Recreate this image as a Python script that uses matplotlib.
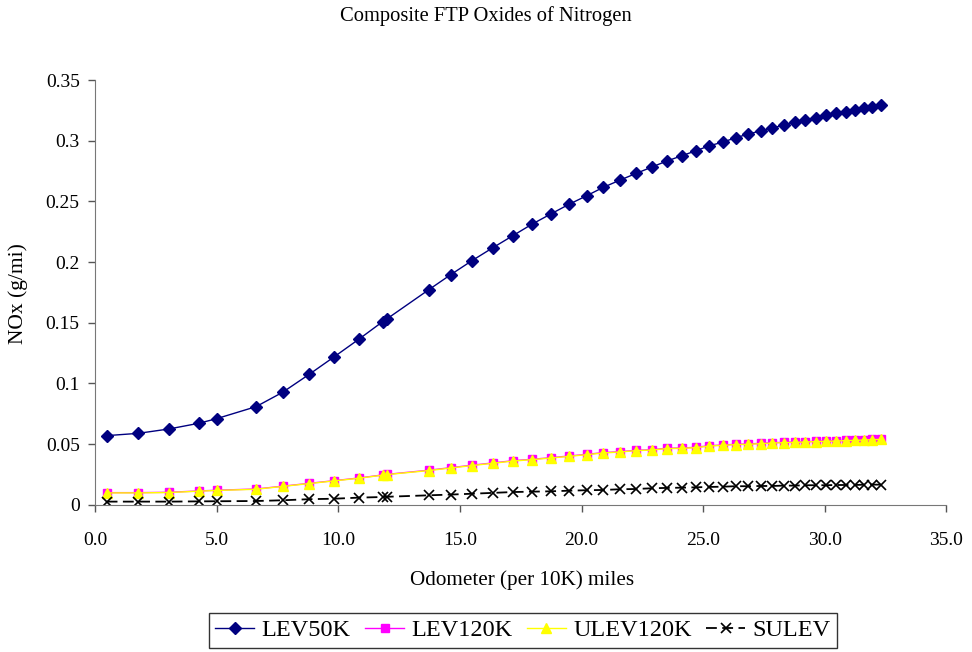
import matplotlib
matplotlib.use('Agg')
from matplotlib import pyplot as plt
from matplotlib.ticker import FuncFormatter, MultipleLocator

odometer = [0.48, 1.78, 3.04, 4.27, 5.0, 6.62, 7.71, 8.81, 9.84, 10.86,
            11.82, 12.01, 13.72, 14.62, 15.49, 16.35, 17.17, 17.95, 18.73, 19.48,
            20.21, 20.89, 21.58, 22.24, 22.88, 23.50, 24.11, 24.70, 25.25, 25.80,
            26.33, 26.84, 27.36, 27.84, 28.31, 28.76, 29.19, 29.63, 30.04, 30.45,
            30.86, 31.25, 31.62, 31.96, 32.31]

lev50k = [0.0569, 0.0588, 0.0624, 0.0671, 0.0709, 0.0808, 0.0926, 0.1075, 0.1220, 0.1366,
          0.1508, 0.1533, 0.1772, 0.1896, 0.2011, 0.2118, 0.2217, 0.2311, 0.2396, 0.2476,
          0.2547, 0.2616, 0.2676, 0.2731, 0.2783, 0.2833, 0.2876, 0.2918, 0.2959, 0.2989,
          0.3025, 0.3055, 0.3082, 0.3104, 0.3132, 0.3152, 0.3171, 0.3190, 0.3209, 0.3226,
          0.3239, 0.3253, 0.3267, 0.3278, 0.3292]

lev120k = [0.0099, 0.0099, 0.0102, 0.0113, 0.0119, 0.0129, 0.0152, 0.0176, 0.0198, 0.0220,
           0.0245, 0.0250, 0.0284, 0.0305, 0.0325, 0.0344, 0.0362, 0.0374, 0.0387, 0.0401,
           0.0415, 0.0429, 0.0437, 0.0448, 0.0453, 0.0465, 0.0467, 0.0473, 0.0486, 0.0492,
           0.0498, 0.0500, 0.0506, 0.0511, 0.0514, 0.0517, 0.0519, 0.0523, 0.0525, 0.0527,
           0.0531, 0.0533, 0.0536, 0.0539, 0.0541]

ulev120k = [0.0097, 0.0097, 0.0100, 0.0111, 0.0117, 0.0127, 0.0150, 0.0174, 0.0196, 0.0218,
            0.0243, 0.0248, 0.0281, 0.0302, 0.0322, 0.0341, 0.0359, 0.0371, 0.0384, 0.0398,
            0.0412, 0.0426, 0.0434, 0.0445, 0.0450, 0.0462, 0.0464, 0.0470, 0.0483, 0.0489,
            0.0495, 0.0497, 0.0503, 0.0508, 0.0511, 0.0514, 0.0516, 0.0520, 0.0522, 0.0524,
            0.0528, 0.0530, 0.0533, 0.0536, 0.0538]

sulev = [0.0025, 0.0025, 0.0025, 0.0027, 0.0028, 0.0030, 0.0036, 0.0045, 0.0049, 0.0058,
         0.0063, 0.0065, 0.0077, 0.0083, 0.0090, 0.0097, 0.0104, 0.0107, 0.0110, 0.0115,
         0.0119, 0.0121, 0.0127, 0.0129, 0.0135, 0.0138, 0.0140, 0.0143, 0.0146, 0.0148,
         0.0152, 0.0152, 0.0154, 0.0154, 0.0157, 0.0157, 0.0160, 0.0160, 0.0160, 0.0162,
         0.0162, 0.0162, 0.0165, 0.0165, 0.0165]

plt.rcParams['font.family'] = 'Liberation Serif'

fig = plt.figure(figsize=(9.72, 6.52), dpi=100)
ax = fig.add_axes([0.0977, 0.226, 0.876, 0.651])

ax.plot(odometer, lev50k, color='#000080', marker='D', markersize=6, linewidth=1.0, label='LEV50K')
ax.plot(odometer, lev120k, color='#ff00ff', marker='s', markersize=6, linewidth=1.0, label='LEV120K')
ax.plot(odometer, ulev120k, color='#ffff00', marker='^', markersize=7, linewidth=1.0, label='ULEV120K')
ax.plot(odometer, sulev, color='black', marker='x', markersize=7, markeredgewidth=1.2,
        linewidth=1.3, linestyle=(0, (6, 3)), label='SULEV')

ax.set_xlim(0, 35)
ax.set_ylim(0, 0.35)
ax.xaxis.set_major_locator(MultipleLocator(5))
ax.yaxis.set_major_locator(MultipleLocator(0.05))
ax.xaxis.set_major_formatter(FuncFormatter(lambda v, p: '%.1f' % v))
ax.yaxis.set_major_formatter(FuncFormatter(lambda v, p: '%g' % round(v, 2)))
ax.tick_params(labelsize=14, length=5, width=1, color='#555555', pad=6)
ax.tick_params(axis='x', pad=15)

for side in ['top', 'right']:
    ax.spines[side].set_visible(False)
for side in ['left', 'bottom']:
    ax.spines[side].set_color('#777777')

fig.text(0.500, 0.975, 'Composite FTP Oxides of Nitrogen', ha='center', va='center', fontsize=14.8)
fig.text(0.537, 0.110, 'Odometer (per 10K) miles', ha='center', va='center', fontsize=15.2)
fig.text(0.019, 0.550, 'NOx (g/mi)', ha='center', va='center', fontsize=15.5, rotation=90)

leg = fig.legend(loc='center', bbox_to_anchor=(0.538, 0.033), ncol=4, fontsize=17.5,
                 frameon=True, fancybox=False, handlelength=1.6, handletextpad=0.3,
                 columnspacing=0.6, borderpad=0.25, borderaxespad=0)
leg.get_frame().set_edgecolor('black')
leg.get_frame().set_linewidth(1.0)

fig.savefig('out.png', dpi=100)
